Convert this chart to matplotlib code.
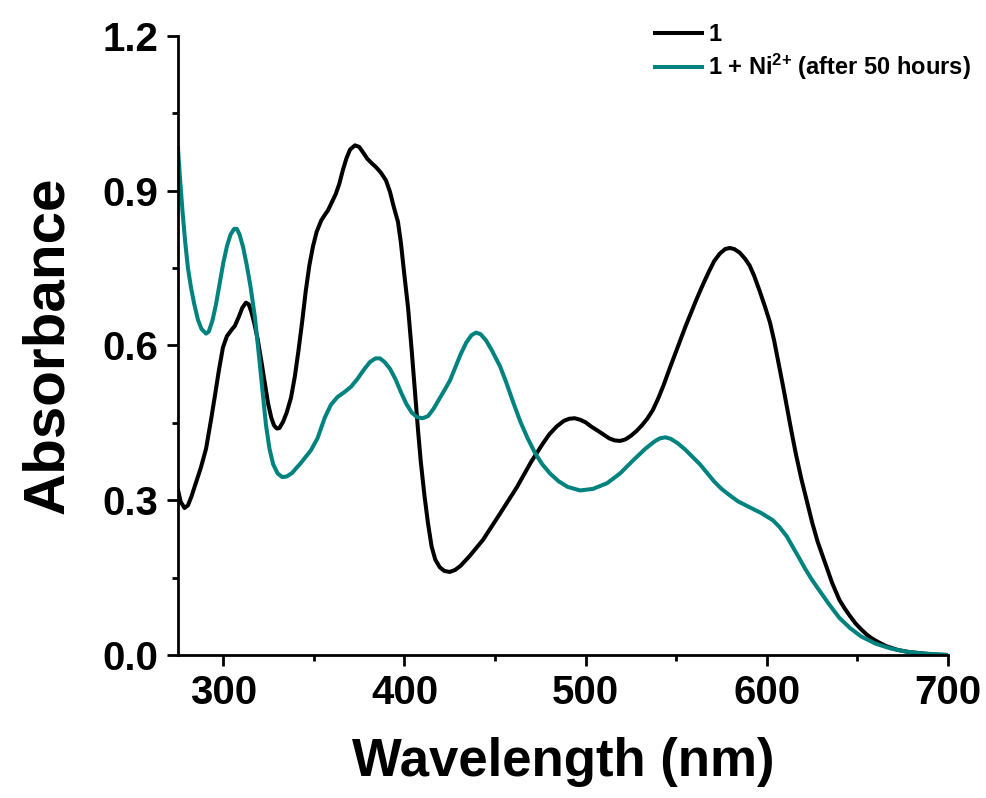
import matplotlib
matplotlib.use('Agg')
import matplotlib.pyplot as plt
from matplotlib.ticker import MultipleLocator, FormatStrFormatter

# spectra (wavelength in nm, absorbance)
wl_free = [275, 276.5, 278.6, 280.5, 282.5, 285, 287.7, 290.5, 293.2, 295.5, 297.5, 299.8, 302, 304.5,
           306.4, 308.5, 310.5, 312.5, 314, 315.5, 317, 319, 321, 323, 324.7, 326.5, 328, 329.6, 331,
           333, 335, 337.4, 339.5, 341.5, 343.5, 345.5, 347.5, 349.5, 351.5, 354, 356, 357.8, 360,
           362, 364, 366, 368, 370, 372.7, 375, 377, 379.5, 382, 384.5, 387, 389.8, 392, 394, 396.4,
           398, 400, 402, 404, 406, 407.5, 409, 411, 413, 415, 417, 419.5, 422, 425, 428, 431, 436,
           443.3, 452, 462, 470, 476.4, 480, 484, 488, 491, 494, 497, 500, 503, 507.9, 513, 516, 519,
           522, 525, 528, 531, 534, 537.1, 540, 543, 546, 549, 552, 555, 558, 561, 564.7, 568, 571,
           574, 577, 579.6, 582, 585, 588, 590.5, 593, 596, 599, 601.7, 604, 606.5, 609, 611.1, 613.5,
           616, 619, 622.1, 625, 628, 631, 633.2, 636, 640, 643, 646, 649, 652, 655, 658, 662, 666,
           672, 678, 683, 692, 700]
abs_free = [0.32, 0.297, 0.285, 0.29, 0.308, 0.335, 0.364, 0.4, 0.455, 0.505, 0.55, 0.596, 0.618, 0.63,
            0.638, 0.655, 0.673, 0.683, 0.68, 0.665, 0.645, 0.612, 0.57, 0.525, 0.488, 0.46, 0.445, 0.439, 0.44,
            0.452, 0.47, 0.499, 0.54, 0.59, 0.645, 0.705, 0.755, 0.792, 0.82, 0.842, 0.853, 0.862, 0.878,
            0.893, 0.913, 0.94, 0.963, 0.98, 0.988, 0.985, 0.975, 0.962, 0.953, 0.945, 0.935, 0.92, 0.898, 0.87, 0.84,
            0.8, 0.735, 0.673, 0.59, 0.5, 0.435, 0.375, 0.31, 0.255, 0.21, 0.185, 0.17, 0.163, 0.161, 0.165, 0.173, 0.192,
            0.223, 0.27, 0.325, 0.375, 0.41, 0.428, 0.443, 0.454, 0.458, 0.459, 0.456, 0.451, 0.443, 0.432, 0.42, 0.416, 0.415,
            0.418, 0.425, 0.434, 0.445, 0.458, 0.475, 0.497, 0.523, 0.552, 0.58, 0.608, 0.636, 0.662, 0.688, 0.718, 0.743, 0.764,
            0.778, 0.787, 0.789, 0.787, 0.78, 0.768, 0.755, 0.735, 0.706, 0.675, 0.645, 0.61, 0.565, 0.52, 0.48, 0.435,
            0.39, 0.342, 0.298, 0.257, 0.22, 0.19, 0.168, 0.14, 0.107, 0.09, 0.075, 0.061, 0.05, 0.04, 0.032, 0.024, 0.017,
            0.01, 0.006, 0.004, 0.001, 0.0]

wl_ni = [275, 276, 277.5, 279, 280.5, 282.2, 284, 286, 288, 290.5, 292, 294, 296, 298, 300, 302, 304,
         306, 307.5, 309, 311, 313, 315, 317.5, 320, 322, 323.6, 325.5, 327.5, 330, 332.5, 335, 338,
         343, 348.4, 352, 356, 359.4, 363, 367, 370.5, 374, 378, 381, 384, 386.5, 389, 392, 395, 398,
         401, 404, 407, 410, 413, 416, 419, 422, 425.1, 428, 431, 434, 437, 439.5, 442, 445, 448,
         452.7, 456, 460, 464, 468, 472, 476, 480.3, 485, 490, 496.9, 504, 511.8, 519, 526.1, 533,
         538, 541, 544, 547, 551, 555, 559, 563, 567, 571, 575, 579, 584, 590.7, 597, 603.4, 607,
         611, 614.4, 618, 621, 624.5, 627.6, 631, 634, 637, 640, 646, 652, 660, 668, 676, 686, 700]
abs_ni = [0.983, 0.93, 0.86, 0.8, 0.75, 0.712, 0.68, 0.65, 0.632, 0.623, 0.627, 0.648, 0.68, 0.72, 0.76, 0.792, 0.815,
          0.826, 0.826, 0.815, 0.79, 0.755, 0.715, 0.654, 0.57, 0.5, 0.445, 0.4, 0.37, 0.352, 0.345, 0.346, 0.353,
          0.373, 0.397, 0.42, 0.46, 0.485, 0.5, 0.51, 0.52, 0.535, 0.555, 0.568, 0.575, 0.575, 0.568, 0.555, 0.535, 0.51,
          0.487, 0.47, 0.461, 0.459, 0.463, 0.477, 0.495, 0.513, 0.532, 0.557, 0.583, 0.605, 0.62, 0.625, 0.622, 0.61, 0.592,
          0.56, 0.53, 0.49, 0.452, 0.42, 0.392, 0.37, 0.352, 0.337, 0.326, 0.319, 0.322, 0.333, 0.352, 0.377, 0.4,
          0.414, 0.42, 0.422, 0.419, 0.41, 0.398, 0.384, 0.37, 0.353, 0.336, 0.322, 0.311, 0.298, 0.286, 0.275, 0.261, 0.248,
          0.23, 0.209, 0.187, 0.168, 0.148, 0.132, 0.115, 0.1, 0.086, 0.072, 0.052, 0.036, 0.022, 0.013, 0.007, 0.003, 0.0]

labels = ['1', r'1 + Ni$^{2{+}}$ (after 50 hours)']

plt.rcParams['font.family'] = ['Liberation Sans', 'DejaVu Sans']
plt.rcParams['font.weight'] = 'bold'
plt.rcParams['mathtext.fontset'] = 'custom'
plt.rcParams['mathtext.rm'] = 'Liberation Sans:bold'
plt.rcParams['mathtext.it'] = 'Liberation Sans:bold'
plt.rcParams['mathtext.bf'] = 'Liberation Sans:bold'

fig = plt.figure(figsize=(9.86, 7.98), dpi=100)
ax = fig.add_axes([0.1805, 0.1792, 0.781, 0.7757])

ax.plot(wl_free, abs_free, color='black', lw=2.9, label=labels[0], solid_joinstyle='round')
ax.plot(wl_ni, abs_ni, color='#00827F', lw=2.9, label=labels[1], solid_joinstyle='round')

ax.set_xlim(275, 700)
ax.set_ylim(0, 1.2)
ax.xaxis.set_major_locator(MultipleLocator(100))
ax.xaxis.set_minor_locator(MultipleLocator(50))
ax.yaxis.set_major_locator(MultipleLocator(0.3))
ax.yaxis.set_minor_locator(MultipleLocator(0.15))
ax.yaxis.set_major_formatter(FormatStrFormatter('%.1f'))

for side in ['top', 'right']:
    ax.spines[side].set_visible(False)
for side in ['left', 'bottom']:
    ax.spines[side].set_linewidth(2.0)

ax.tick_params(which='major', direction='out', length=8, width=2, labelsize=29, pad=6)
ax.tick_params(which='minor', direction='out', length=4, width=2)
for lab in ax.get_xticklabels() + ax.get_yticklabels():
    lab.set_fontweight('bold')

ax.set_xlabel('Wavelength (nm)', fontsize=38, fontweight='bold', labelpad=18)
ax.set_ylabel('Absorbance', fontsize=42, fontweight='bold', labelpad=20)

leg = fig.legend(loc='upper left', bbox_to_anchor=(0.655, 0.983), frameon=False,
                 prop={'size': 17, 'weight': 'bold'}, handlelength=2.0,
                 handletextpad=0.25, labelspacing=0.25, borderaxespad=0)

fig.savefig('out.png', dpi=100)
